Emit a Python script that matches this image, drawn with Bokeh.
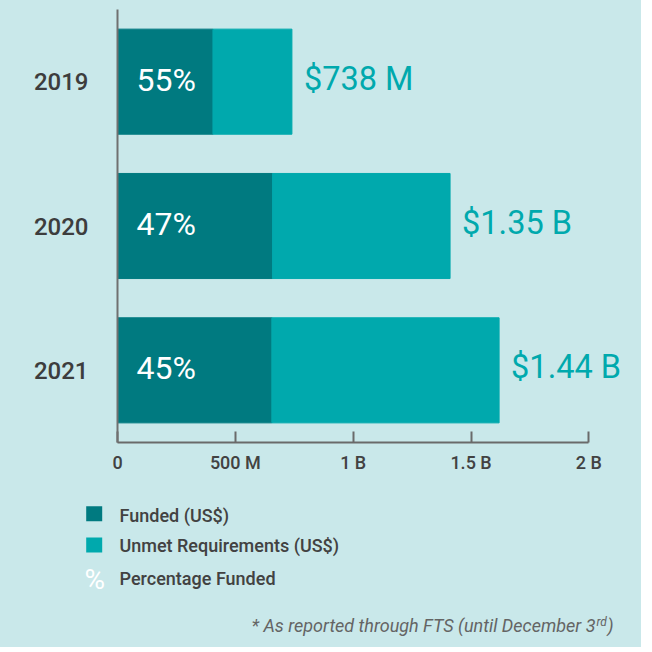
from bokeh.plotting import figure
from bokeh.models import Range1d, FactorRange, FixedTicker, ColumnDataSource
from bokeh.layouts import column
from bokeh.core.properties import value
from bokeh.embed import file_html
from bokeh.resources import INLINE

# ---- data (US$ millions) ----
years = ["2019", "2020", "2021"]
funded = [405, 658, 655]
unmet = [335, 753, 964]
pct_labels = ["55%", "47%", "45%"]
total_labels = ["$738 M", "$1.35 B", "$1.44 B"]
x_ticks = [0, 500, 1000, 1500, 2000]
x_tick_labels = ["0", "500 M", "1 B", "1.5 B", "2 B"]
legend_labels = ["Funded (US$)", "Unmet Requirements (US$)", "Percentage Funded"]
footnote = "* As reported through FTS (until December 3"
footnote_sup = "rd"
footnote_end = ")"

BG = "#c9e8ea"
DARK = "#007a80"
LIGHT = "#00a9ad"
TXT = "#424242"
FONT = value("Roboto")
MED = "Roboto Medium"

totals = [f + u for f, u in zip(funded, unmet)]
src = ColumnDataSource(dict(year=years, funded=funded, total=totals,
                            pct=pct_labels, tot=total_labels))

p = figure(width=641, height=488,
           y_range=FactorRange(factors=years[::-1]),
           x_range=Range1d(0, 524 / 0.2357),
           output_backend="svg", toolbar_location=None,
           min_border_left=117, min_border_right=0,
           min_border_top=9, min_border_bottom=46,
           background_fill_alpha=0, border_fill_alpha=0,
           outline_line_color=None, styles={"background-color": BG})
p.grid.visible = False
p.frame_align = False

p.hbar(y="year", left=0, right="funded", height=0.728, color=DARK, source=src)
p.hbar(y="year", left="funded", right="total", height=0.728, color=LIGHT, source=src)
p.text(x=0, y="year", text="pct", x_offset=19, y_offset=-2, source=src,
       text_font=FONT, text_font_size="32px", text_color="white",
       text_align="left", text_baseline="middle")
p.text(x="total", y="year", text="tot", x_offset=12, y_offset=-3, source=src,
       text_font=FONT, text_font_size="32.5px", text_color=LIGHT,
       text_align="left", text_baseline="middle")

xa = p.xaxis[0]
xa.ticker = FixedTicker(ticks=x_ticks)
xa.major_label_overrides = {t: l for t, l in zip(x_ticks, x_tick_labels)}
xa.bounds = (0, 2000)
xa.major_tick_in = 11
xa.major_tick_out = 0
xa.minor_tick_in = 0
xa.minor_tick_out = 0
xa.axis_line_color = "#6a6a6a"
xa.axis_line_width = 2
xa.major_tick_line_color = "#6a6a6a"
xa.major_tick_line_width = 2
xa.major_label_text_font = MED
xa.major_label_text_font_size = "18px"
xa.major_label_text_color = TXT
xa.major_label_standoff = 9

ya = p.yaxis[0]
ya.major_tick_in = 0
ya.major_tick_out = 0
ya.axis_line_color = "#707070"
ya.axis_line_width = 2
ya.major_label_standoff = 29
ya.major_label_text_font = MED
ya.major_label_text_font_size = "24px"
ya.major_label_text_color = "#3d3d3d"

# ---- legend / footnote panel ----
q = figure(width=641, height=159, x_range=Range1d(0, 641), y_range=Range1d(159, 0),
           x_axis_type=None, y_axis_type=None,
           output_backend="svg", toolbar_location=None, min_border=0,
           min_border_left=0, min_border_right=0, min_border_top=0, min_border_bottom=0,
           background_fill_alpha=0, border_fill_alpha=0, outline_line_color=None,
           styles={"background-color": BG})
q.grid.visible = False
q.frame_align = False

q.rect(x=[93.7, 93.7], y=[25.3, 56.5], width=16, height=15,
       width_units="screen", height_units="screen",
       fill_color=[DARK, LIGHT], line_color=None)
q.text(x=[84], y=[91], text=["%"], text_font=FONT, text_font_size="28px",
       text_color="white", text_align="left", text_baseline="middle")
q.text(x=[119, 119, 119], y=[27, 57, 90], text=legend_labels, text_font=value(MED),
       text_font_size="18px", text_color=TXT, text_align="left", text_baseline="middle")
q.text(x=[595], y=[137], text=[footnote], text_font=FONT, text_font_size="18px",
       text_font_style="italic", text_color="#646464", text_align="right",
       text_baseline="middle")
q.text(x=[596], y=[133], text=[footnote_sup], text_font=FONT, text_font_size="12px",
       text_font_style="italic", text_color="#646464", text_align="left",
       text_baseline="middle")
q.text(x=[607], y=[137], text=[footnote_end], text_font=FONT, text_font_size="18px",
       text_font_style="italic", text_color="#646464", text_align="left",
       text_baseline="middle")

layout = column(p, q, spacing=0, styles={"background-color": BG})
open("out.html", "w").write(file_html(layout, INLINE))
